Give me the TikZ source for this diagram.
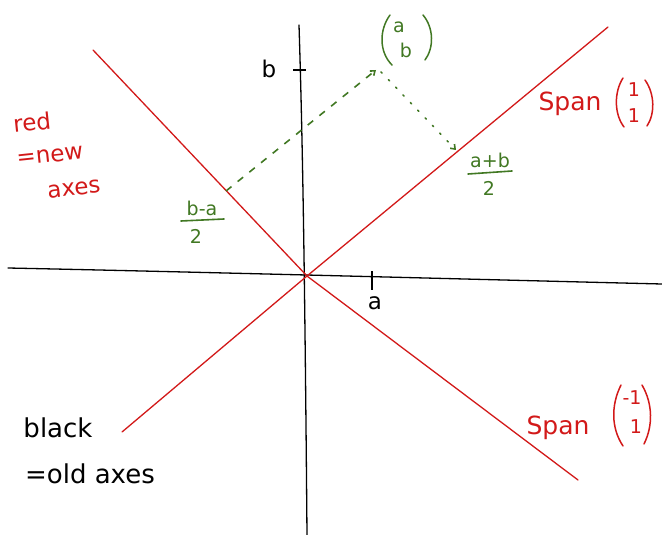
\documentclass[tikz,border=0pt]{standalone}
\usepackage{fontspec}
\setmainfont{DejaVu Sans}
\usetikzlibrary{arrows.meta}
\definecolor{penred}{RGB}{210,25,25}
\definecolor{pengreen}{RGB}{65,120,35}
\tikzset{
  oldaxis/.style={draw=black, line width=1.3pt, line cap=round},
  newaxis/.style={draw=penred, line width=1.3pt, line cap=round},
  tickmark/.style={draw=black, line width=1.3pt},
  proj/.style={draw=pengreen, line width=1.6pt, -{Straight Barb[length=4pt,width=6pt]}},
  redtxt/.style={text=penred, font=\fontsize{25}{26}\selectfont, inner sep=0pt},
  redlab/.style={text=penred, font=\fontsize{23}{24}\selectfont, inner sep=0pt},
  redsm/.style={text=penred, font=\fontsize{19}{21}\selectfont, inner sep=0pt},
  blktxt/.style={text=black, font=\fontsize{23}{28}\selectfont, inner sep=0pt},
  blkbig/.style={text=black, font=\fontsize{26}{28}\selectfont, inner sep=0pt},
  grntxt/.style={text=pengreen, font=\fontsize{19}{20}\selectfont, inner sep=0pt},
  grnbar/.style={draw=pengreen, line width=1.6pt, line cap=round},
  redparen/.style={draw=penred, line width=1.5pt, line cap=round},
  grnparen/.style={draw=pengreen, line width=1.5pt, line cap=round},
}
\begin{document}
\begin{tikzpicture}[x=1pt,y=-1pt]
\useasboundingbox (0,0) rectangle (662,535);
% coordinates
\coordinate (xl) at (8,268);
\coordinate (xr) at (662,284);
\coordinate (yt) at (299,25);
\coordinate (ym) at (303,150);
\coordinate (yb) at (307,535);
\coordinate (O) at (307,276);
\coordinate (r1a) at (122,432);
\coordinate (r1b) at (608,27);
\coordinate (r2a) at (93,50);
\coordinate (r2b) at (578,480);
\coordinate (P) at (376,70);
\coordinate (Ps) at (381,72);
\coordinate (Q1) at (226,191);
\coordinate (Q2) at (456,150);
% old axes
\draw[oldaxis] (xl) .. controls (200,272) and (500,280) .. (xr);
\draw[oldaxis] (yt) .. controls (ym) and (305,300) .. (yb);
% ticks
\draw[tickmark] (293,70) -- (306,70);
\draw[tickmark] (372,271) -- (372,290);
\node[blktxt] (lb) at (269,69) {b};
\node[blktxt] (la) at (375,303) {a};
% new axes
\draw[newaxis] (r1a) -- (O) -- (r1b);
\draw[newaxis] (r2a) -- (O) -- (r2b);
% projections
\draw[proj, dash pattern=on 7pt off 8pt] (Q1) -- (P);
\draw[proj, dash pattern=on 1.6pt off 9pt, line cap=round] (Ps) -- (Q2);
% green labels: vector (a b)
\draw[grnparen] (390,15) .. controls (379,30) and (379,52) .. (392,65);
\node[grntxt] (va) at (399,27) {a};
\node[grntxt] (vb) at (406,50) {b};
\draw[grnparen] (423,15) .. controls (434,28) and (434,48) .. (425,60);
% (b-a)/2
\node[grntxt] (bman) at (202,208) {b-a};
\coordinate (bmal) at (181,221);
\coordinate (bmar) at (224,219);
\draw[grnbar] (bmal) -- (bmar);
\node[grntxt] (bmad) at (196,236) {2};
% (a+b)/2
\node[grntxt] (apbn) at (490,160) {a+b};
\coordinate (apbl) at (468,174);
\coordinate (apbr) at (512,171);
\draw[grnbar] (apbl) -- (apbr);
\node[grntxt] (apbd) at (489,188) {2};
% red labels
\node[redlab, rotate=6] (red1) at (32,122) {red};
\node[redlab, rotate=6] (red2) at (50,156) {=new};
\node[redlab, rotate=6] (red3) at (74,189) {axes};
\node[redtxt] (span1) at (570,104) {Span};
\draw[redparen] (623,78) .. controls (614,92) and (614,114) .. (624,127);
\node[redsm] (s1a) at (634,90) {1};
\node[redsm] (s1b) at (634,116) {1};
\draw[redparen] (645,80) .. controls (655,94) and (655,114) .. (647,126);
\node[redtxt] (span2) at (558,428) {Span};
\draw[redparen] (621,385) .. controls (611,405) and (611,428) .. (623,446);
\node[redsm] (s2a) at (632,398) {-1};
\node[redsm] (s2b) at (636,427) {1};
\draw[redparen] (642,385) .. controls (653,404) and (653,426) .. (644,444);
% black labels
\node[blkbig] (blk1) at (58,428) {black};
\node[blkbig] (blk2) at (90,474) {=old axes};
\end{tikzpicture}
\end{document}
